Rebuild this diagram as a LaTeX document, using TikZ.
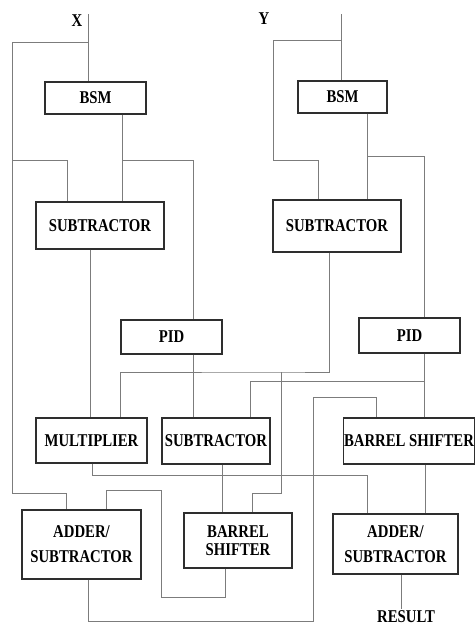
\documentclass[tikz,border=0pt]{standalone}
\usepackage{fontspec}
\setmainfont{Liberation Serif}[FakeStretch=0.82]
\usepackage{tikz}
\usetikzlibrary{calc}
\definecolor{wiregray}{HTML}{7C7C7C}
\definecolor{boxedge}{HTML}{2E2E2E}

\begin{document}
\begin{tikzpicture}[x=1pt, y=-1pt, font=\bfseries\fontsize{18}{25}\selectfont,
  blk/.style={draw=boxedge, line width=1.1pt, fill=white, inner sep=0pt, align=center},
  wire/.style={draw=wiregray, line width=0.9pt}
]
\useasboundingbox (0,0) rectangle (476,625);

% ---- blocks -------------------------------------------------------------
\foreach \n/\x/\y/\w/\h/\t in {bsmx/95.5/98/101/32/BSM, bsmy/342.5/97/89/32/BSM,
    subx/100/225.5/128/47/SUBTRACTOR, suby/337/226/128/52/SUBTRACTOR,
    pidx/171.5/337/101/34/PID, pidy/409.5/335.5/101/35/PID,
    mult/91.5/440.5/111/45/MULTIPLIER, subm/216/441/108/46/SUBTRACTOR,
    bshr/409/441/131/46/BARREL SHIFTER} {
  \node[blk, minimum width=\w pt, minimum height=\h pt] (\n) at (\x,\y) {\t};
}
\node[blk, minimum width=119pt, minimum height=69pt] (add1) at (81.5,544.5) {ADDER/\\SUBTRACTOR};
\node[blk, minimum width=108pt, minimum height=55pt, font=\bfseries\fontsize{18}{18.5}\selectfont]
  (bsh1) at (238,540.5) {BARREL\\SHIFTER};
\node[blk, minimum width=125pt, minimum height=60pt] (add2) at (395.5,544) {ADDER/\\SUBTRACTOR};

% ---- inputs / output ----------------------------------------------------
\node (xlab) at (77,21) {X};
\node (ylab) at (264,19) {Y};
\node[inner sep=1pt] (rst) at (406,616.5) {RESULT};
\coordinate (xin) at (88,14);
\coordinate (yin) at (341,14);
\coordinate (sj) at (281,372);

% ---- X path -------------------------------------------------------------
\draw[wire] (xin) -- (xin |- bsmx.north);
\draw[wire] (xin |- 0,42) -| (12,493) -| ([xshift=-15.5pt]add1.north);
\draw[wire] (12,160) -| ([xshift=-33pt]subx.north);
\draw[wire] ([xshift=26.5pt]bsmx.south) -- ([xshift=26.5pt]bsmx.south |- subx.north);
\draw[wire] ([xshift=26.5pt]bsmx.south |- 0,160) -| ([xshift=22pt]pidx.north);
\draw[wire] ([xshift=-10pt]subx.south) -- ([xshift=-10pt]subx.south |- mult.north);
\draw[wire] ([xshift=22pt]pidx.south) -- ([xshift=22pt]pidx.south |- subm.north);

% ---- Y path -------------------------------------------------------------
\draw[wire] (yin) -- (yin |- bsmy.north);
\draw[wire] (yin |- 0,40) -| (273,160) -| ([xshift=-19pt]suby.north);
\draw[wire] ([xshift=24.5pt]bsmy.south) -- ([xshift=24.5pt]bsmy.south |- suby.north);
\draw[wire] ([xshift=24.5pt]bsmy.south |- 0,156) -| ([xshift=15pt]pidy.north);
\draw[wire] ([xshift=-8pt]suby.south) |- (sj) -| ([xshift=28.5pt]mult.north);
\draw[wire] (sj) -- (281,493) -| ([xshift=14pt]bsh1.north);
\draw[wire] ([xshift=15pt]pidy.south) -- ([xshift=15pt]pidy.south |- bshr.north);
\draw[wire] ([xshift=15pt]pidy.south |- 0,381) -| ([xshift=34pt]subm.north);

% ---- lower stage --------------------------------------------------------
\draw[wire] ([xshift=0.5pt]mult.south) -- ++(0,12) -| ([xshift=-28.5pt]add2.north);
\draw[wire] ([xshift=6pt]subm.south) -- ([xshift=6pt]subm.south |- bsh1.north);
\draw[wire] ([xshift=-13pt]bsh1.south) -- ++(0,29) -| (161,490) -| ([xshift=24.5pt]add1.north);
\draw[wire] ([xshift=6.5pt]add1.south) -- ++(0,42) -| (313,397) -| ([xshift=-33pt]bshr.north);
\draw[wire] ([xshift=16pt]bshr.south) -- ([xshift=16pt]bshr.south |- add2.north);
\draw[wire] ([xshift=5.5pt]add2.south) -- ([xshift=5.5pt]add2.south |- rst.north);
\end{tikzpicture}
\end{document}
